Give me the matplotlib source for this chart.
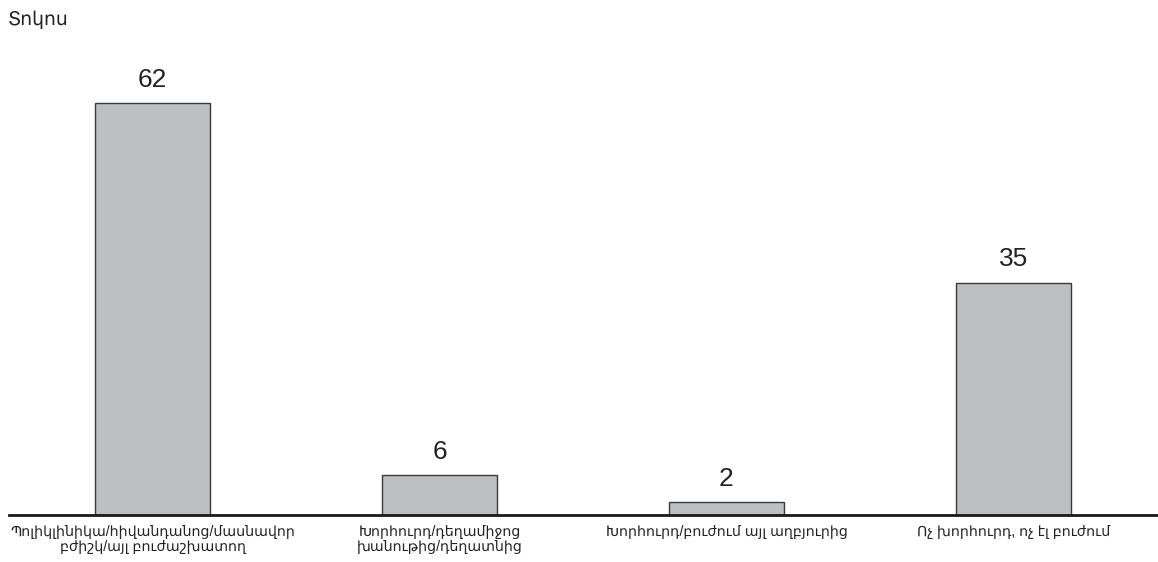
import matplotlib
matplotlib.use("Agg")
import matplotlib.pyplot as plt

plt.rcParams['font.family'] = ['Liberation Sans', 'DejaVu Sans']

categories = [
    "Պոլիկլինիկա/հիվանդանոց/մասնավոր\nբժիշկ/այլ բուժաշխատող",
    "Խորհուրդ/դեղամիջոց\nխանութից/դեղատնից",
    "Խորհուրդ/բուժում այլ աղբյուրից",
    "Ոչ խորհուրդ, ոչ էլ բուժում",
]
values = [62, 6, 2, 35]
ylabel = "Տոկոս"

W, H = 1158, 562
fig = plt.figure(figsize=(W / 100, H / 100), dpi=100)
ax = fig.add_axes([9 / W, 47 / H, 1148 / W, 1 - 47 / H - 60 / H])

x = list(range(len(categories)))
bars = ax.bar(x, values, width=0.4, color="#bebfc3", edgecolor="#3a3a3a", linewidth=1.0)
ax.set_xlim(-0.5, len(categories) - 0.5)
ax.set_ylim(0, 68.5)

for xi, v in zip(x, values):
    ax.annotate(str(v), (xi, v), xytext=(0, 8), textcoords="offset points",
                ha="center", va="bottom", fontsize=19, color="#222222")

for s in ["top", "right", "left"]:
    ax.spines[s].set_visible(False)
ax.spines["bottom"].set_linewidth(2.0)
ax.spines["bottom"].set_color("#1a1a1a")
ax.set_yticks([])
ax.set_xticks(x)
ax.set_xticklabels(categories, fontsize=10.2, color="#222222", linespacing=1.12)
ax.tick_params(axis="x", length=0, pad=7)

fig.text(8 / W, 1 - 20 / H, ylabel, ha="left", va="center", fontsize=13.5, color="#222222")

fig.savefig("out.png", dpi=100)
